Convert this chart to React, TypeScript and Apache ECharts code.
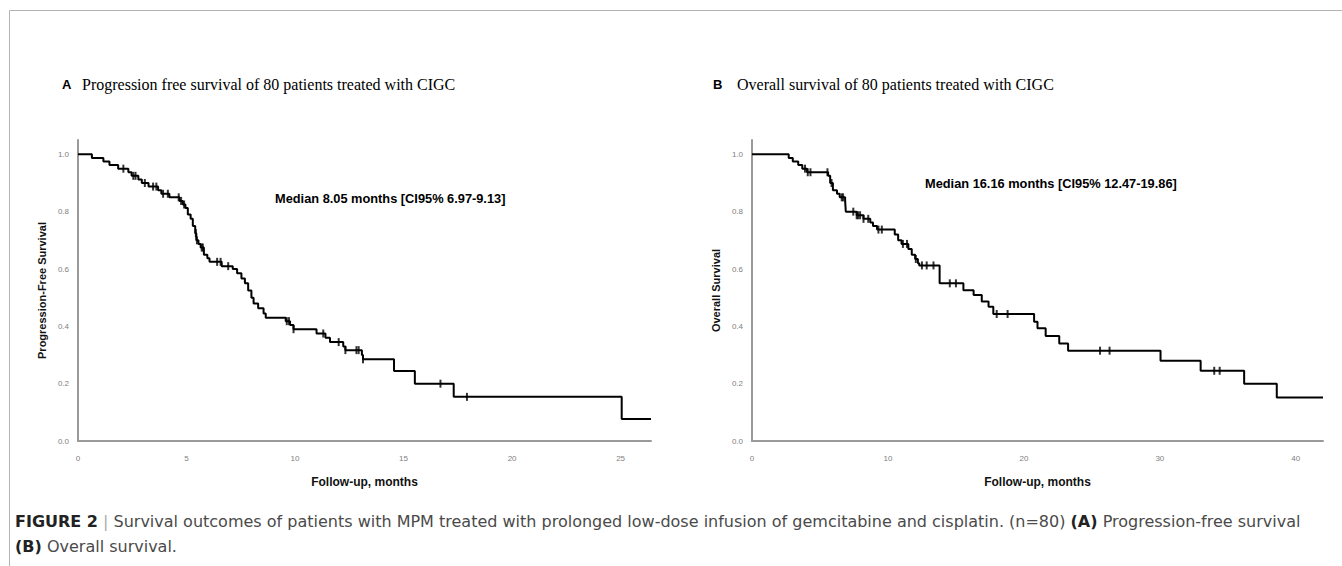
import React, { useEffect, useRef } from "react";
import * as echarts from "echarts";

// PFS (panel A): event times (months) and survival after each event
const pfsTimes = [0.64, 1.17, 1.45, 1.85, 2.32, 2.47, 2.78, 2.94, 3.25, 3.69, 3.84, 4.21, 4.68, 4.83, 4.95, 5.06, 5.19, 5.29, 5.4, 5.45, 5.55, 5.65, 5.8, 5.96, 6.06, 6.62, 7.13, 7.33, 7.53, 7.69, 7.84, 7.99, 8.09, 8.3, 8.55, 8.65, 9.57, 9.77, 9.93, 10.99, 11.4, 11.61, 12.22, 12.32, 13.08, 13.13, 14.56, 15.52, 17.31, 25.05];
const pfsSurv = [0.9875, 0.975, 0.9625, 0.95, 0.9375, 0.925, 0.9125, 0.9, 0.8875, 0.875, 0.8625, 0.85, 0.8375, 0.825, 0.8125, 0.79, 0.775, 0.75, 0.725, 0.7, 0.6875, 0.675, 0.65, 0.6375, 0.625, 0.61, 0.6, 0.585, 0.567, 0.55, 0.525, 0.5, 0.48, 0.463, 0.445, 0.43, 0.418, 0.405, 0.39, 0.375, 0.36, 0.345, 0.33, 0.317, 0.3, 0.285, 0.244, 0.2, 0.154, 0.077];
const pfsCensored = [2.09, 2.55, 2.65, 3.08, 3.46, 3.61, 3.92, 4.14, 4.64, 4.75, 4.89, 5.43, 5.48, 5.7, 5.75, 6.41, 6.57, 6.92, 9.62, 9.72, 9.93, 11.3, 12.01, 12.32, 12.83, 12.93, 13.13, 16.7, 17.92];
const pfsEnd = 26.4;

// OS (panel B)
const osTimes = [2.7, 3.0, 3.4, 3.7, 4.05, 5.6, 5.75, 5.95, 6.25, 6.45, 6.85, 6.9, 7.7, 8.2, 8.7, 8.9, 9.2, 10.5, 10.75, 11.0, 11.5, 11.75, 12.0, 12.2, 12.3, 13.8, 15.55, 16.3, 16.9, 17.4, 17.75, 20.75, 21.0, 21.6, 22.6, 23.25, 30.05, 33.0, 36.2, 38.6];
const osSurv = [0.9875, 0.975, 0.9625, 0.95, 0.9375, 0.925, 0.9, 0.875, 0.8625, 0.85, 0.8375, 0.8, 0.7875, 0.775, 0.7625, 0.75, 0.7375, 0.72, 0.7, 0.6875, 0.67, 0.65, 0.635, 0.62, 0.6125, 0.55, 0.526, 0.509, 0.487, 0.468, 0.443, 0.416, 0.393, 0.366, 0.34, 0.315, 0.28, 0.245, 0.2, 0.152];
const osCensored = [3.9, 4.1, 4.3, 5.55, 5.85, 6.6, 6.7, 7.45, 7.7, 7.8, 7.95, 8.2, 8.55, 9.3, 9.55, 11.1, 11.4, 12.05, 12.5, 12.85, 13.35, 14.55, 15.0, 18.0, 18.8, 25.6, 26.3, 34.0, 34.4];
const osEnd = 42;

const titleA = "Progression free survival of 80 patients treated with CIGC";
const titleB = "Overall survival of 80 patients treated with CIGC";
const medianA = "Median 8.05 months [CI95% 6.97-9.13]";
const medianB = "Median 16.16 months [CI95% 12.47-19.86]";
const yNameA = "Progression-Free Survival";
const yNameB = "Overall Survival";
const xName = "Follow-up, months";
const yTickLabels = ["0.0", "0.2", "0.4", "0.6", "0.8", "1.0"];
const captionLine1 =
  "{b|FIGURE 2} {p||} Survival outcomes of patients with MPM treated with prolonged low-dose infusion of gemcitabine and cisplatin. (n=80) {b|(A)} Progression-free survival";
const captionLine2 = "{b|(B)} Overall survival.";

function stepData(times: number[], surv: number[], end: number) {
  const d: number[][] = [[0, 1]];
  times.forEach((t, i) => d.push([t, surv[i]]));
  d.push([end, surv[surv.length - 1]]);
  return d;
}
function survAt(times: number[], surv: number[], t: number) {
  let s = 1;
  for (let i = 0; i < times.length; i++) if (times[i] <= t) s = surv[i];
  return s;
}
function censorData(times: number[], surv: number[], cens: number[]) {
  return cens.map((t) => [t, survAt(times, surv, t)]);
}

const axisGray = "#9a9a9a";
const tickGray = "#808080";

function yAxisFor(gridIndex: number, name: string) {
  return {
    type: "value",
    gridIndex,
    min: 0,
    max: 1.05,
    interval: 0.2,
    name,
    nameLocation: "middle",
    nameGap: 31,
    nameTextStyle: { fontFamily: "Liberation Sans, Arial", fontWeight: "bold", fontSize: 11, color: "#111" },
    axisLine: { show: true, lineStyle: { color: axisGray, width: 2 } },
    axisTick: { show: false },
    splitLine: { show: false },
    axisLabel: {
      margin: 9,
      fontSize: 8,
      color: tickGray,
      fontFamily: "Liberation Sans, Arial",
      formatter: (v: number) => {
        const i = Math.round(v * 5);
        return Math.abs(v * 5 - i) < 1e-6 ? yTickLabels[i] : "";
      },
    },
  };
}
function xAxisFor(gridIndex: number, max: number, interval: number) {
  return {
    type: "value",
    gridIndex,
    min: 0,
    max,
    interval,
    name: xName,
    nameLocation: "middle",
    nameGap: 35,
    nameTextStyle: { fontFamily: "Liberation Sans, Arial", fontWeight: "bold", fontSize: 12, color: "#111" },
    axisLine: { show: true, lineStyle: { color: axisGray, width: 2 } },
    axisTick: { show: false },
    splitLine: { show: false },
    axisLabel: {
      margin: 13,
      fontSize: 8,
      color: tickGray,
      fontFamily: "Liberation Sans, Arial",
      formatter: (v: number) => (Math.abs(v / interval - Math.round(v / interval)) < 1e-6 ? String(v) : ""),
    },
  };
}

export default function App() {
  const ref = useRef<HTMLDivElement>(null);
  useEffect(() => {
    if (!ref.current) return;
    const chart = echarts.init(ref.current, null, { renderer: "svg" });
    const lineStyle = { color: "#000", width: 2 };
    chart.setOption({
      animation: false,
      backgroundColor: "#fff",
      grid: [
        { left: 78, top: 140, width: 573, height: 301 },
        { left: 752, top: 140, width: 571, height: 301 },
      ],
      xAxis: [xAxisFor(0, pfsEnd, 5), xAxisFor(1, osEnd, 10)],
      yAxis: [yAxisFor(0, yNameA), yAxisFor(1, yNameB)],
      series: [
        {
          type: "line",
          xAxisIndex: 0,
          yAxisIndex: 0,
          step: "end",
          symbol: "none",
          lineStyle,
          data: stepData(pfsTimes, pfsSurv, pfsEnd),
        },
        {
          type: "scatter",
          xAxisIndex: 0,
          yAxisIndex: 0,
          symbol: "rect",
          symbolSize: [2, 8],
          itemStyle: { color: "#000" },
          data: censorData(pfsTimes, pfsSurv, pfsCensored),
        },
        {
          type: "line",
          xAxisIndex: 1,
          yAxisIndex: 1,
          step: "end",
          symbol: "none",
          lineStyle,
          data: stepData(osTimes, osSurv, osEnd),
        },
        {
          type: "scatter",
          xAxisIndex: 1,
          yAxisIndex: 1,
          symbol: "rect",
          symbolSize: [2, 8],
          itemStyle: { color: "#000" },
          data: censorData(osTimes, osSurv, osCensored),
        },
      ],
      graphic: [
        { type: "line", shape: { x1: 9.5, y1: 10.5, x2: 1342, y2: 10.5 }, style: { stroke: "#b4b4b4", lineWidth: 1 } },
        { type: "line", shape: { x1: 9.5, y1: 10.5, x2: 9.5, y2: 566 }, style: { stroke: "#b4b4b4", lineWidth: 1 } },
        { type: "text", x: 62, y: 84, style: { text: "A", font: "bold 13px 'Liberation Sans', Arial", fill: "#000", verticalAlign: "middle" } },
        { type: "text", x: 82, y: 84, style: { text: titleA, font: "16px 'Liberation Serif', 'Times New Roman', serif", fill: "#000", verticalAlign: "middle" } },
        { type: "text", x: 713, y: 84, style: { text: "B", font: "bold 13px 'Liberation Sans', Arial", fill: "#000", verticalAlign: "middle" } },
        { type: "text", x: 737, y: 84, style: { text: titleB, font: "16px 'Liberation Serif', 'Times New Roman', serif", fill: "#000", verticalAlign: "middle" } },
        { type: "text", x: 275, y: 198, style: { text: medianA, font: "bold 12.8px 'Liberation Sans', Arial", fill: "#000", verticalAlign: "middle" } },
        { type: "text", x: 925, y: 183, style: { text: medianB, font: "bold 12.8px 'Liberation Sans', Arial", fill: "#000", verticalAlign: "middle" } },
        {
          type: "text",
          x: 15,
          y: 521,
          style: {
            text: captionLine1,
            font: "16px 'DejaVu Sans'",
            fill: "#4a4a4a",
            verticalAlign: "middle",
            rich: {
              b: { fontWeight: "bold", fontSize: 16, fill: "#222", fontFamily: "DejaVu Sans" },
              p: { fill: "#aaa", fontSize: 16, fontFamily: "DejaVu Sans" },
            },
          },
        },
        {
          type: "text",
          x: 15,
          y: 546,
          style: {
            text: captionLine2,
            font: "16px 'DejaVu Sans'",
            fill: "#4a4a4a",
            verticalAlign: "middle",
            rich: { b: { fontWeight: "bold", fontSize: 16, fill: "#222", fontFamily: "DejaVu Sans" } },
          },
        },
      ],
    });
    return () => chart.dispose();
  }, []);
  return <div ref={ref} style={{ position: "fixed", left: 0, top: 0, width: 1342, height: 566 }} />;
}
